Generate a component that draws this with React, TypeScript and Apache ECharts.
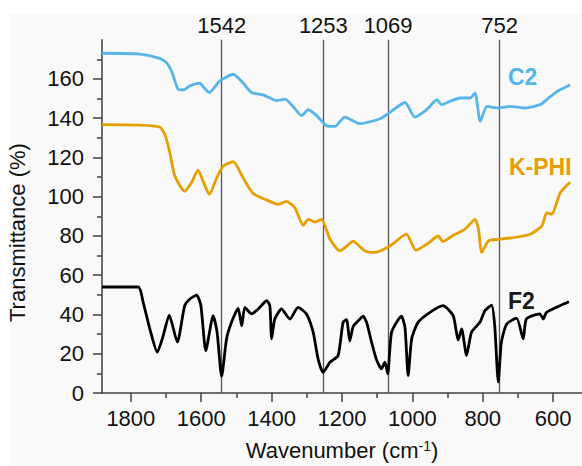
import React, { useEffect, useRef } from "react";
import * as echarts from "echarts";

// C2 spectrum (wavenumber cm^-1, transmittance %)
const c2Wavenumbers = [1882,1774,1718,1699,1684,1666,1651,1632,1604,1595,1577,1547,1509,1481,1457,1424,1386,1362,1339,1315,1296,1272,1244,1220,1192,1149,1092,1069,1021,993,960,930,917,894,865,836,822,807,788,755,722,684,637,613,589,580,552];
const c2Values = [173.1,172.7,170.5,168.3,163.8,154.8,154.4,156.5,157.9,156.1,153.1,159.0,162.4,157.9,153.1,151.9,149.0,149.7,146.0,141.3,144.3,141.3,136.2,135.8,140.6,137.2,139.7,142.3,148.0,140.6,144.3,149.4,146.9,148.5,150.3,150.3,152.8,138.4,146.0,145.2,146.0,145.2,146.9,150.3,153.6,154.5,157.0];

// K-PHI spectrum
const kphiWavenumbers = [1882,1780,1718,1703,1689,1675,1647,1628,1609,1593,1577,1556,1538,1509,1481,1453,1414,1381,1358,1334,1310,1296,1277,1258,1234,1206,1168,1135,1107,1064,1017,990,955,927,913,884,851,822,812,803,784,755,712,665,632,618,604,580,552];
const kphiValues = [136.7,136.5,135.5,131.6,122.3,110.5,102.8,107.1,113.5,107.1,101.2,109.6,115.5,117.9,109.6,101.7,98.3,96.1,97.6,94.4,85.4,88.5,87.1,88.5,78.3,72.4,77.2,72.4,71.6,74.9,80.9,72.7,76.3,80.0,77.2,80.4,83.4,88.5,83.4,71.6,77.5,78.3,79.2,80.9,85.1,91.9,91.0,102.0,107.4];

// F2 spectrum
const f2Wavenumbers = [1882,1779,1765,1746,1725,1708,1691,1668,1647,1632,1613,1601,1587,1566,1555,1542,1528,1514,1495,1485,1476,1457,1438,1414,1405,1400,1391,1372,1348,1325,1301,1282,1268,1254,1234,1211,1197,1187,1178,1168,1149,1140,1130,1116,1102,1088,1078,1070,1059,1031,1021,1012,1002,984,950,913,884,870,860,846,832,808,794,775,766,756,747,732,704,685,676,638,628,619,581,555];
const f2Values = [54.0,54.0,46.2,32.6,20.8,29.2,39.7,25.9,44.5,47.9,49.9,44.5,21.6,39.4,31.0,8.5,27.6,36.0,43.1,34.3,43.6,40.3,42.8,47.0,44.5,27.6,37.7,42.8,37.7,43.6,40.3,31.0,17.4,10.5,15.7,19.1,36.0,37.4,26.5,34.0,37.7,39.1,36.0,25.9,17.0,12.3,15.7,9.8,31.0,39.1,33.3,8.9,27.6,36.0,41.1,44.5,39.4,27.0,32.6,19.1,31.0,36.0,41.9,44.8,34.3,5.6,25.9,35.2,38.1,27.6,37.7,40.3,37.7,41.1,44.5,46.5];

// marked bands
const markedBands = [1542, 1253, 1069, 752];

// axis ticks
const xMajorTicks = [1800, 1600, 1400, 1200, 1000, 800, 600];
const xMinorTicks = [1700, 1500, 1300, 1100, 900, 700];
const yMajorTicks = [0, 20, 40, 60, 80, 100, 120, 140, 160];

const seriesNames = ["C2", "K-PHI", "F2"];
const seriesColors = ["#56B4E9", "#E69F00", "#000000"];

const FONT = "'Liberation Sans', Arial, sans-serif";
const AXIS_COLOR = "#404040";
const TEXT_COLOR = "#111111";

const zip = (xs: number[], ys: number[]) => xs.map((x, i) => [x, ys[i]]);

export default function App() {
  const ref = useRef<HTMLDivElement>(null);

  useEffect(() => {
    if (!ref.current) return;
    const chart = echarts.init(ref.current, null, { renderer: "svg" });

    const datasets = [
      zip(c2Wavenumbers, c2Values),
      zip(kphiWavenumbers, kphiValues),
      zip(f2Wavenumbers, f2Values),
    ];

    const series: any[] = datasets.map((d, i) => ({
      name: seriesNames[i],
      type: "line",
      data: d,
      showSymbol: false,
      symbol: "none",
      smooth: 0.2,
      lineStyle: { color: seriesColors[i], width: 2.8 },
      z: 5,
      silent: true,
    }));

    series.push({
      type: "line",
      data: [],
      silent: true,
      markLine: {
        silent: true,
        symbol: ["none", "none"],
        animation: false,
        lineStyle: { color: "#555555", width: 1.3, type: "solid" },
        label: {
          show: true,
          position: "end",
          distance: 3,
          fontSize: 22,
          fontFamily: FONT,
          color: TEXT_COLOR,
          formatter: (p: any) => String(p.value),
        },
        data: markedBands.map((b) => ({ xAxis: b })),
      },
      z: 3,
    });

    chart.setOption({
      animation: false,
      backgroundColor: "#ffffff",
      textStyle: { fontFamily: FONT },
      graphic: [
        {
          type: "rect",
          z: -100,
          silent: true,
          shape: { x: 10, y: 14, width: 580, height: 460 },
          style: { fill: "#F9F9F9" },
        },
        {
          type: "text",
          x: 17,
          y: 322,
          rotation: Math.PI / 2,
          style: {
            text: "Transmittance (%)",
            fontSize: 22,
            fontFamily: FONT,
            fill: TEXT_COLOR,
            align: "left",
            verticalAlign: "middle",
          },
        },
        {
          type: "text",
          x: 508,
          y: 77,
          style: {
            text: seriesNames[0],
            fontSize: 23,
            fontWeight: "bold",
            fontFamily: FONT,
            fill: seriesColors[0],
            align: "left",
            verticalAlign: "middle",
          },
        },
        {
          type: "text",
          x: 509,
          y: 167,
          style: {
            text: seriesNames[1],
            fontSize: 23,
            fontWeight: "bold",
            fontFamily: FONT,
            fill: seriesColors[1],
            align: "left",
            verticalAlign: "middle",
          },
        },
        {
          type: "text",
          x: 508,
          y: 301,
          style: {
            text: seriesNames[2],
            fontSize: 23,
            fontWeight: "bold",
            fontFamily: FONT,
            fill: "#1a1a1a",
            align: "left",
            verticalAlign: "middle",
          },
        },
      ],
      grid: { left: 102, right: 0, top: 39.7, bottom: 71.7, containLabel: false },
      xAxis: [
        {
          type: "value",
          inverse: true,
          min: 518,
          max: 1882,
          name: "{a|Wavenumber (cm}{s|-1}{a|)}",
          nameLocation: "middle",
          nameGap: 46,
          nameTextStyle: {
            rich: {
              a: { fontSize: 22, fontFamily: FONT, color: TEXT_COLOR },
              s: { fontSize: 14, fontFamily: FONT, color: TEXT_COLOR, verticalAlign: "top" },
            },
          },
          axisLine: { show: true, lineStyle: { color: AXIS_COLOR, width: 1.5 } },
          axisTick: {
            show: true,
            length: 9,
            customValues: xMajorTicks,
            lineStyle: { color: AXIS_COLOR, width: 1.5 },
          },
          axisLabel: {
            show: true,
            customValues: xMajorTicks,
            formatter: (v: number) => String(v),
            fontSize: 22,
            fontFamily: FONT,
            color: TEXT_COLOR,
            margin: 14,
          },
          splitLine: { show: false },
        },
        {
          type: "value",
          inverse: true,
          min: 518,
          max: 1882,
          position: "bottom",
          axisLine: { show: false },
          axisTick: {
            show: true,
            length: 5,
            customValues: xMinorTicks,
            lineStyle: { color: AXIS_COLOR, width: 1.5 },
          },
          axisLabel: { show: false },
          splitLine: { show: false },
        },
      ],
      yAxis: {
        type: "value",
        min: 0,
        max: 180,
        interval: 20,
        axisLine: { show: true, lineStyle: { color: AXIS_COLOR, width: 1.5 } },
        axisTick: {
          show: true,
          length: 9,
          customValues: yMajorTicks,
          lineStyle: { color: AXIS_COLOR, width: 1.5 },
        },
        minorTick: {
          show: true,
          splitNumber: 2,
          length: 5,
          lineStyle: { color: AXIS_COLOR, width: 1.5 },
        },
        axisLabel: {
          customValues: yMajorTicks,
          formatter: (v: number) => String(v),
          fontSize: 22,
          fontFamily: FONT,
          color: TEXT_COLOR,
          margin: 18,
        },
        splitLine: { show: false },
        minorSplitLine: { show: false },
      },
      series,
    });

    return () => chart.dispose();
  }, []);

  return (
    <div
      ref={ref}
      style={{ position: "absolute", left: 0, top: 0, width: 582, height: 466 }}
    />
  );
}
